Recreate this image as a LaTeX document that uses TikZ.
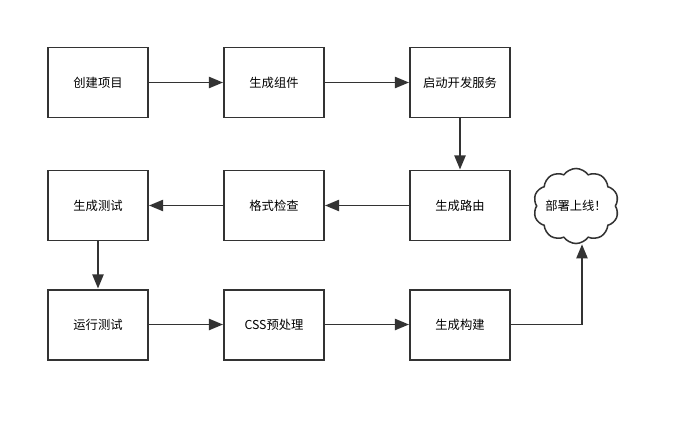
\documentclass[tikz,border=0pt]{standalone}
\usepackage{fontspec}
\setmainfont{Noto Sans CJK SC}
\usetikzlibrary{shapes.symbols,arrows.meta}
\definecolor{linegray}{RGB}{51,51,51}

\begin{document}
\begin{tikzpicture}[x=0.03cm,y=-0.03cm,
  stepbox/.style={draw=linegray,line width=1.7pt,minimum width=100*0.03cm,minimum height=70*0.03cm,inner sep=0pt,font=\fontsize{10.5}{12}\selectfont},
  flow/.style={draw=linegray,line width=1.6pt,-{Triangle[length=12pt,width=9.5pt]}}]
% Canvas
\useasboundingbox[fill=white] (0,0) rectangle (683,422);
% Steps
\node[stepbox] (create) at (98,82.5) {创建项目};
\node[stepbox] (comp) at (274,82.5) {生成组件};
\node[stepbox] (serve) at (460,82.5) {启动开发服务};
\node[stepbox] (route) at (460,205.5) {生成路由};
\node[stepbox] (lint) at (274,205.5) {格式检查};
\node[stepbox] (test) at (98,205.5) {生成测试};
\node[stepbox] (run) at (98,324.5) {运行测试};
\node[stepbox] (css) at (274,324.5) {CSS预处理};
\node[stepbox] (build) at (460,324.5) {生成构建};
% Cloud
\node[cloud,cloud puffs=10,cloud puff arc=110,aspect=1.2,draw=linegray,line width=1.3pt,minimum width=84*0.03cm,minimum height=68*0.03cm,inner sep=-2.5pt,font=\fontsize{10.5}{12}\selectfont] (deploy) at (576,206) {部署上线！};
% Arrows
\draw[flow] (create) -- (comp);
\draw[flow] (comp) -- (serve);
\draw[flow] (serve) -- (route);
\draw[flow] (route) -- (lint);
\draw[flow] (lint) -- (test);
\draw[flow] (test) -- (run);
\draw[flow] (run) -- (css);
\draw[flow] (css) -- (build);
\draw[flow] (build.east) -| ([xshift=6*0.03cm]deploy.south);
\end{tikzpicture}
\end{document}
